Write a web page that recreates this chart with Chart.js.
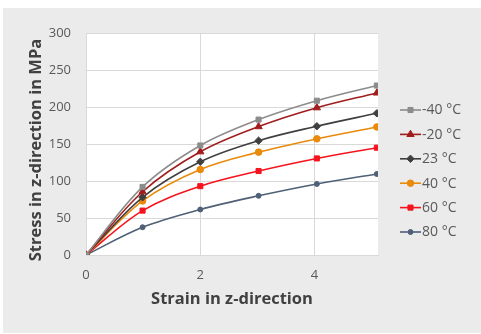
<!DOCTYPE html>
<html lang="en">
<head>
<meta charset="UTF-8">
<title>Stress vs strain in z-direction</title>
<script src="https://cdn.jsdelivr.net/npm/chart.js"></script>
<style>
    body {
        margin: 0;
        background: #ffffff;
        font-family: 'Open Sans', sans-serif;
    }
    .panel {
        position: absolute;
        left: 3px;
        top: 8px;
        width: 478px;
        height: 325px;
        background: #ebebeb;
    }
    .wrap {
        position: absolute;
        left: 0;
        top: 0;
        width: 481px;
        height: 334px;
    }
</style>
</head>
<body>
<div class="panel"></div>
<div class="wrap"><canvas id="stressChart"></canvas></div>

<script>
// strain values (x) shared by all series
const strain = [0, 0.99, 2, 3.02, 4.04, 5.09];

const labels = ['-40 °C', '-20 °C', '23 °C', '40 °C', '60 °C', '80 °C'];
const stressM40 = [0, 92, 148, 183, 208.5, 229];
const stressM20 = [0, 85.5, 139.5, 173.5, 199, 219];
const stress23  = [0, 78, 126, 154.5, 174, 191.5];
const stress40  = [0, 73, 115.5, 139, 157, 173];
const stress60  = [0, 60, 93, 113.5, 130.5, 145];
const stress80  = [0, 37.5, 61.5, 80, 96, 109.5];

const yTicks = [0, 50, 100, 150, 200, 250, 300];
const xTicks = [0, 2, 4];

const colors = ['#8c8c8c', '#a11d1d', '#3f3f3f', '#ea8a0b', '#f5141e', '#4f6077'];
const markers = ['rect', 'triangle', 'rectRot', 'circle', 'rect', 'circle'];
const radii = [3.6, 4.2, 3.7, 3.3, 3.6, 2.5];

const series = [stressM40, stressM20, stress23, stress40, stress60, stress80];

const datasets = series.map((vals, i) => ({
    label: labels[i],
    data: vals.map((v, k) => ({ x: strain[k], y: v })),
    showLine: true,
    borderColor: colors[i],
    backgroundColor: colors[i],
    borderWidth: 1.6,
    pointStyle: markers[i],
    pointRadius: radii[i],
    pointHoverRadius: radii[i],
    pointBorderWidth: 1,
    tension: 0.35
}));

// white plot area, axis titles and legend drawn by hand
const extras = {
    id: 'extras',
    beforeDraw(chart) {
        const { ctx, chartArea: a } = chart;
        ctx.save();
        ctx.fillStyle = '#ffffff';
        ctx.fillRect(a.left, a.top, a.right - a.left, a.bottom - a.top);
        ctx.restore();
    },
    afterDraw(chart) {
        const ctx = chart.ctx;
        ctx.save();
        ctx.fillStyle = '#404040';
        ctx.font = 'bold 16.5px "Open Sans"';
        ctx.textAlign = 'center';
        ctx.textBaseline = 'middle';
        ctx.fillText('Strain in z-direction', 232, 299);
        ctx.translate(36, 150);
        ctx.rotate(-Math.PI / 2);
        ctx.fillText('Stress in z-direction in MPa', 0, 0);
        ctx.restore();

        // legend
        ctx.save();
        ctx.font = '14px "Open Sans"';
        ctx.textBaseline = 'middle';
        ctx.textAlign = 'left';
        chart.data.datasets.forEach((ds, i) => {
            const y = 110 + i * 24.4;
            ctx.strokeStyle = ds.borderColor;
            ctx.lineWidth = 1.6;
            ctx.beginPath();
            ctx.moveTo(400, y);
            ctx.lineTo(421, y);
            ctx.stroke();
            ctx.fillStyle = ds.borderColor;
            ctx.lineWidth = 1;
            Chart.helpers.drawPoint(ctx, {
                pointStyle: ds.pointStyle,
                radius: ds.pointRadius,
                borderWidth: 1,
                rotation: 0
            }, 410.5, y);
            ctx.fillStyle = '#595959';
            ctx.fillText(ds.label, 422, y + 0.5);
        });
        ctx.restore();
    }
};

const ctx = document.getElementById('stressChart').getContext('2d');
new Chart(ctx, {
    type: 'scatter',
    data: { datasets: datasets },
    options: {
        responsive: true,
        maintainAspectRatio: false,
        animation: false,
        layout: {
            padding: { top: 33, right: 103, bottom: 0, left: 0 }
        },
        plugins: {
            legend: { display: false },
            tooltip: { enabled: false }
        },
        scales: {
            x: {
                type: 'linear',
                min: 0,
                max: 5.11,
                afterBuildTicks: (scale) => {
                    scale.ticks = xTicks.map(v => ({ value: v }));
                },
                afterFit: (scale) => { scale.height = 79; },
                grid: { color: '#d9d9d9', drawTicks: false },
                border: { color: '#d9d9d9' },
                ticks: {
                    padding: 12,
                    color: '#595959',
                    font: { family: 'Open Sans', size: 13 },
                    maxRotation: 0
                }
            },
            y: {
                min: 0,
                max: 300,
                afterBuildTicks: (scale) => {
                    scale.ticks = yTicks.map(v => ({ value: v }));
                },
                afterFit: (scale) => { scale.width = 86; },
                grid: { color: '#d9d9d9', drawTicks: false },
                border: { color: '#d9d9d9' },
                ticks: {
                    padding: 15,
                    color: '#595959',
                    font: { family: 'Open Sans', size: 13 }
                }
            }
        }
    },
    plugins: [extras]
});
</script>
</body>
</html>
